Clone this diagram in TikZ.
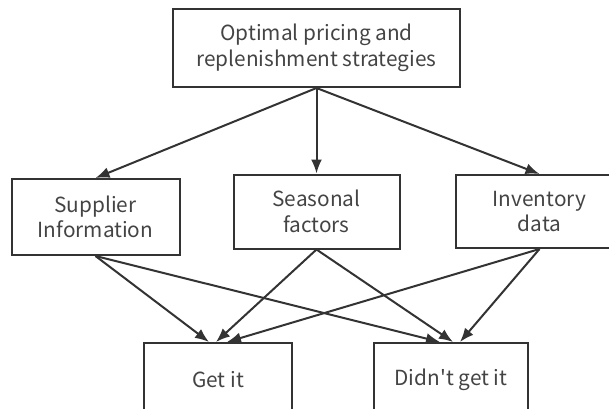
\documentclass[tikz,border=0pt]{standalone}
\usepackage{fontspec}
\setmainfont{Noto Sans CJK SC}[Ligatures=TeXOff]
\usetikzlibrary{arrows.meta,positioning}
\definecolor{linegray}{HTML}{333333}
\definecolor{textgray}{HTML}{444444}

\begin{document}
\begin{tikzpicture}[x=1pt,y=1pt,>={Latex[length=14pt,width=11pt]}]
	\tikzstyle{rect}=[draw=linegray, line width=2pt, rectangle, text centered, align=center, text=textgray, inner sep=0pt, font=\fontsize{20.8}{25.5}\selectfont]
	\tikzstyle{link}=[->, draw=linegray, line width=2pt]
	\useasboundingbox (0,0) rectangle (609,-408);

	\node[rect, minimum width=287pt, minimum height=78pt] (goal) at (316.5,-48) {Optimal pricing and\\replenishment strategies};
	\node[rect, minimum width=166pt, minimum height=74pt] (seasonal) [below=85.5pt of goal] {Seasonal\\factors};
	\node[rect, minimum width=168pt, minimum height=76pt] (supplier) [left=52pt of seasonal, yshift=-5.5pt] {Supplier\\Information};
	\node[rect, minimum width=168pt, minimum height=73pt] (inventory) [right=54pt of seasonal] {Inventory\\data};

	\node[rect, minimum width=148pt, minimum height=74pt] (getit) at (218,-380) {Get it};
	\node[rect, minimum width=154pt, minimum height=74pt] (didnt) at (451,-380) {Didn't get it};

	\draw[link] (goal.south) -- (supplier.north);
	\draw[link] (goal.south) -- (seasonal.north);
	\draw[link] (goal.south) -- (inventory.north);

	\draw[link] (supplier.south) -- ([xshift=-9pt]getit.north);
	\draw[link] (seasonal.south) -- ([xshift=-2pt]getit.north);
	\draw[link] (inventory.south) -- ([xshift=9pt]getit.north);
	\draw[link] (supplier.south) -- ([xshift=-11pt]didnt.north);
	\draw[link] (seasonal.south) -- ([xshift=2pt]didnt.north);
	\draw[link] (inventory.south) -- ([xshift=9pt]didnt.north);
\end{tikzpicture}
\end{document}
